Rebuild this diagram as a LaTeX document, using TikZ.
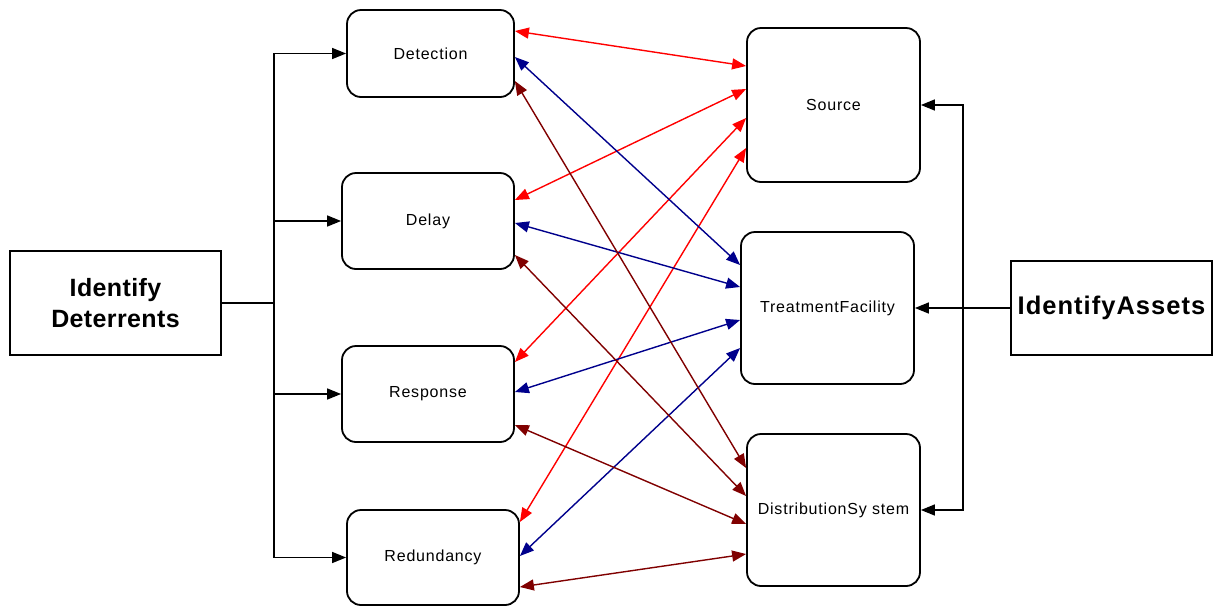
\documentclass[tikz,border=0pt]{standalone}
\usepackage{fontspec}
\setmainfont{Liberation Sans}
\usetikzlibrary{arrows.meta}
\definecolor{cred}{RGB}{255,0,0}
\definecolor{cblue}{RGB}{0,0,140}
\definecolor{cdred}{RGB}{128,0,0}
\begin{document}
\begin{tikzpicture}[x=1pt,y=-1pt,
  rbox/.style={draw=black,line width=1.8pt,rounded corners=14pt,inner sep=0pt,
    font=\fontsize{16}{19}\selectfont\addfontfeature{LetterSpace=5},align=center},
  sqbox/.style={draw=black,line width=1.4pt,inner sep=0pt,
    font=\fontsize{25.5}{31}\selectfont\bfseries\addfontfeature{LetterSpace=4},align=center},
  tip/.tip={Triangle[length=14pt,width=11pt]},
  arr/.style={line width=1.4pt,-tip},
  link/.style={line width=1.4pt,tip-tip}
]
\useasboundingbox (0,0) rectangle (1219,606);
% left column
\node[rbox,minimum width=167pt,minimum height=87pt] (det) at (430.5,53.5) {Detection};
\node[rbox,minimum width=172pt,minimum height=96pt] (del) at (428,221) {Delay};
\node[rbox,minimum width=172pt,minimum height=96pt] (res) at (428,394) {Response};
\node[rbox,minimum width=172pt,minimum height=95pt] (red) at (433,557.5) {Redundancy};
% right column
\node[rbox,minimum width=173pt,minimum height=154pt] (src) at (833.5,105) {Source};
\node[rbox,minimum width=173pt,minimum height=152pt] (tf) at (827.5,308) {TreatmentFacility};
\node[rbox,minimum width=173pt,minimum height=152pt] (ds) at (833.5,510) {DistributionSy stem};
% outer boxes
\node[sqbox,minimum width=211pt,minimum height=104pt,
  font=\fontsize{25}{31}\selectfont\bfseries\addfontfeature{LetterSpace=1.5}] (idd) at (115.5,303) {Identify\\Deterrents};
\node[sqbox,minimum width=201pt,minimum height=94pt] (ia) at (1111.5,308) {IdentifyAssets};
% left tree
\coordinate (lj) at (274,303);
\draw[line width=1.4pt] (idd.east) -- (lj);
\draw[arr] (lj) |- (det.west);
\draw[arr] (lj) |- (del.west);
\draw[arr] (lj) |- (res.west);
\draw[arr] (lj) |- (red.west);
% right tree
\coordinate (rj) at (963,308);
\draw[arr] (ia.west) -- (tf.east);
\draw[arr] (rj) |- (src.east);
\draw[arr] (rj) |- (ds.east);
% red links to Source
\draw[link,cred] ([yshift=22.5pt]det.east) -- ([yshift=39pt]src.west);
\draw[link,cred] ([yshift=21pt]del.east) -- ([yshift=16pt]src.west);
\draw[link,cred] ([yshift=32pt]res.east) -- ([yshift=-13pt]src.west);
\draw[link,cred] ([yshift=35.5pt]red.east) -- ([yshift=-43pt]src.west);
% blue links to Treatment Facility
\draw[link,cblue] ([yshift=-3.5pt]det.east) -- ([yshift=43pt]tf.west);
\draw[link,cblue] ([yshift=-2pt]del.east) -- ([yshift=21pt]tf.west);
\draw[link,cblue] ([yshift=2pt]res.east) -- ([yshift=-12pt]tf.west);
\draw[link,cblue] ([yshift=1.5pt]red.east) -- ([yshift=-40pt]tf.west);
% dark red links to Distribution System
\draw[link,cdred] ([yshift=-27.5pt]det.east) -- ([yshift=42pt]ds.west);
\draw[link,cdred] ([yshift=-34pt]del.east) -- ([yshift=14pt]ds.west);
\draw[link,cdred] ([yshift=-31pt]res.east) -- ([yshift=-14pt]ds.west);
\draw[link,cdred] ([yshift=-29.5pt]red.east) -- ([yshift=-44pt]ds.west);
\end{tikzpicture}
\end{document}
